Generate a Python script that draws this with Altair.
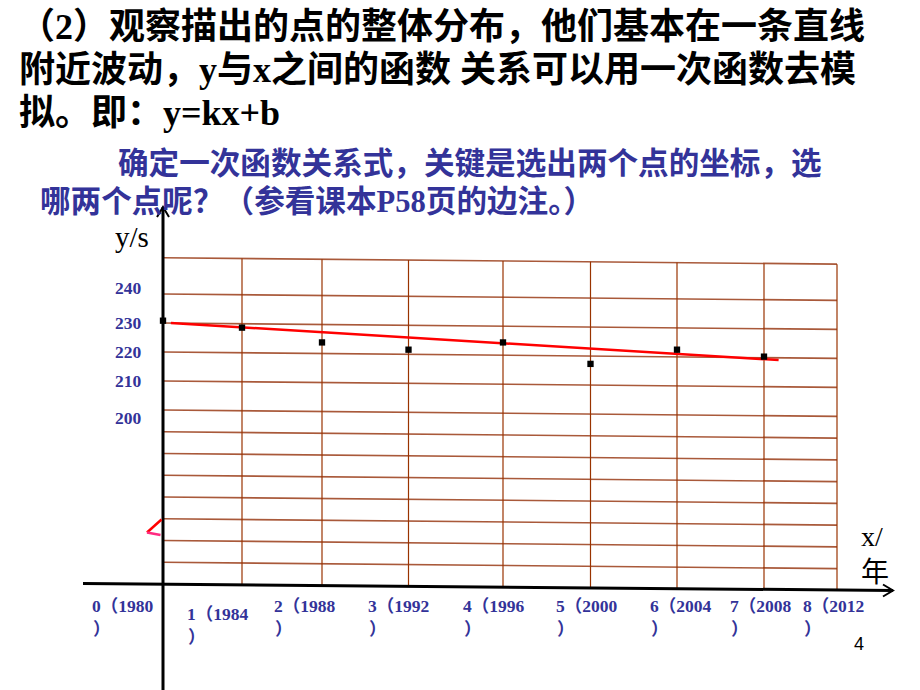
import altair as alt
import pandas as pd

# ---------------- data ----------------
YEARS = [1980, 1984, 1988, 1992, 1996, 2000, 2004, 2008]
TIMES = [230.8, 228.4, 223.3, 220.8, 223.3, 215.9, 220.8, 218.4]
FIT_YEARS = [1980.4, 2008.8]
FIT_TIMES = [230.0, 217.2]
GRID_YEARS = [1980, 1984, 1988, 1992, 1996, 2000, 2004, 2008, 2012]
GRID_TIMES = [252.5, 240, 230, 220, 210, 200, 192.5, 185, 177.5, 170, 162.5, 155, 147.5]
Y_LABELS = ["240", "230", "220", "210", "200"]
X_LABELS = ["0（1980", "1（1984", "2（1988", "3（1992", "4（1996",
            "5（2000", "6（2004", "7（2008", "8（2012"]
X_LABEL_TAIL = "）"
TITLE_LINES = ["（2）观察描出的点的整体分布，他们基本在一条直线",
               "附近波动，y与x之间的函数 关系可以用一次函数去模",
               "拟。即：y=kx+b"]
NOTE_LINES = ["确定一次函数关系式，关键是选出两个点的坐标，选",
              "哪两个点呢？（参看课本P58页的边注。）"]
Y_TITLE = "y/s"
X_TITLE = ["x/", "年"]
PAGE = "4"

# ---------------- layout / style ----------------
W, H = 920, 690
X_RANGE = [163, 242, 322, 408.5, 503, 590.5, 677, 764, 837]
Y_DOMAIN = [140, 230]
Y_RANGE = [584, 323]
TILT = 2.2          # grid drawn slightly slanted (value units over full width)
BOTTOM = 140
FONT = "'Liberation Serif', 'Noto Sans CJK SC', serif"
CJK = "'Noto Sans CJK SC', sans-serif"
BLUE = "#333399"
GRID_H = "#a9593a"
GRID_V = "#993300"

xscale = alt.Scale(domain=GRID_YEARS, range=X_RANGE, nice=False, zero=False)
yscale = alt.Scale(domain=Y_DOMAIN, range=Y_RANGE, nice=False, zero=False)

layers = []

# horizontal grid lines
hdf = pd.DataFrame({
    "x1": [GRID_YEARS[0]] * len(GRID_TIMES),
    "x2": [GRID_YEARS[-1]] * len(GRID_TIMES),
    "y1": GRID_TIMES,
    "y2": [v - TILT for v in GRID_TIMES],
})
layers.append(
    alt.Chart(hdf).mark_rule(color=GRID_H, strokeWidth=1.6).encode(
        x=alt.X("x1:Q", scale=xscale, axis=None),
        x2="x2:Q",
        y=alt.Y("y1:Q", scale=yscale, axis=None),
        y2="y2:Q",
    )
)

# vertical grid lines
fr = [(p - X_RANGE[0]) / (X_RANGE[-1] - X_RANGE[0]) for p in X_RANGE]
vdf = pd.DataFrame({
    "yr": GRID_YEARS,
    "top": [GRID_TIMES[0] - TILT * f for f in fr],
    "bot": [BOTTOM - TILT * f for f in fr],
})
layers.append(
    alt.Chart(vdf).mark_rule(color=GRID_V, strokeWidth=1.2).encode(
        x=alt.X("yr:Q", scale=xscale, axis=None),
        y=alt.Y("top:Q", scale=yscale, axis=None),
        y2="bot:Q",
    )
)

one = pd.DataFrame({"a": [0]})

# x axis (black, slightly slanted) and y axis
layers.append(alt.Chart(one).mark_rule(color="black", strokeWidth=3).encode(
    x=alt.value(83), x2=alt.value(893), y=alt.value(583.5), y2=alt.value(590.5)))
layers.append(alt.Chart(one).mark_rule(color="black", strokeWidth=3).encode(
    x=alt.value(163), y=alt.value(207), y2=alt.value(690)))
# arrow heads
layers.append(alt.Chart(one).mark_point(shape="M-1,-0.6L0,0L-1,0.6", filled=False,
                                        size=400, color="black", strokeWidth=2, opacity=1).encode(
    x=alt.value(893), y=alt.value(590.5)))
layers.append(alt.Chart(one).mark_point(shape="M-0.6,1L0,0L0.6,1", filled=False,
                                        size=400, color="black", strokeWidth=2, opacity=1).encode(
    x=alt.value(163), y=alt.value(207)))

# red small mark on the y axis
layers.append(alt.Chart(one).mark_rule(color="#ff0000", strokeWidth=2.5).encode(
    x=alt.value(161.5), y=alt.value(519.5), x2=alt.value(147), y2=alt.value(532.5)))
layers.append(alt.Chart(one).mark_rule(color="#ff2a80", strokeWidth=2.5).encode(
    x=alt.value(147), y=alt.value(532.5), x2=alt.value(160.5), y2=alt.value(535)))

# fitted red line
fdf = pd.DataFrame({"yr": FIT_YEARS, "t": FIT_TIMES})
layers.append(alt.Chart(fdf).mark_line(color="#ff0000", strokeWidth=2.5).encode(
    x=alt.X("yr:Q", scale=xscale, axis=None),
    y=alt.Y("t:Q", scale=yscale, axis=None),
))

# data points
pdf = pd.DataFrame({"yr": YEARS, "t": TIMES})
layers.append(alt.Chart(pdf).mark_square(size=40, color="black", opacity=1).encode(
    x=alt.X("yr:Q", scale=xscale, axis=None),
    y=alt.Y("t:Q", scale=yscale, axis=None),
))


def text(s, x, y, size, color="black", bold=True, font=FONT, align="left", baseline="middle"):
    return alt.Chart(pd.DataFrame({"t": [s]})).mark_text(
        align=align, baseline=baseline, fontSize=size, font=font,
        fontWeight="bold" if bold else "normal", color=color,
    ).encode(text="t:N", x=alt.value(x), y=alt.value(y))


# title & note
for s, y in zip(TITLE_LINES, [28, 71, 114]):
    layers.append(text(s, 19, y, 36))
for s, x, y in zip(NOTE_LINES, [118, 40], [165, 203]):
    layers.append(text(s, x, y, 30.6, color=BLUE))

# y tick labels
for s, y in zip(Y_LABELS, [289, 324, 353, 382, 419]):
    layers.append(text(s, 115, y, 17.5, color=BLUE))

# x tick labels (two lines each)
LX = [92, 187, 274, 368, 463, 556, 650, 730, 803]
LY = [607, 615, 607, 607, 607, 607, 607, 607, 607]
for s, x, y in zip(X_LABELS, LX, LY):
    layers.append(text(s, x, y, 17.5, color=BLUE))
    layers.append(text(X_LABEL_TAIL, x + 1, y + 23, 17.5, color=BLUE))

# axis titles
layers.append(text(Y_TITLE, 115, 247, 29, bold=False, baseline="alphabetic"))
layers.append(text(X_TITLE[0], 861, 546, 28, bold=False, baseline="alphabetic"))
layers.append(text(X_TITLE[1], 861, 574, 28, bold=False, font=CJK))
layers.append(text(PAGE, 854, 650, 18, bold=False, font="'Liberation Sans', sans-serif",
                   baseline="alphabetic"))

chart = alt.layer(*layers).properties(
    width=W, height=H, padding=0,
    autosize=alt.AutoSizeParams(type="none"),
    background="white",
).configure_view(stroke=None)

chart.save("out.html", embed_options={"renderer": "svg", "actions": False})
